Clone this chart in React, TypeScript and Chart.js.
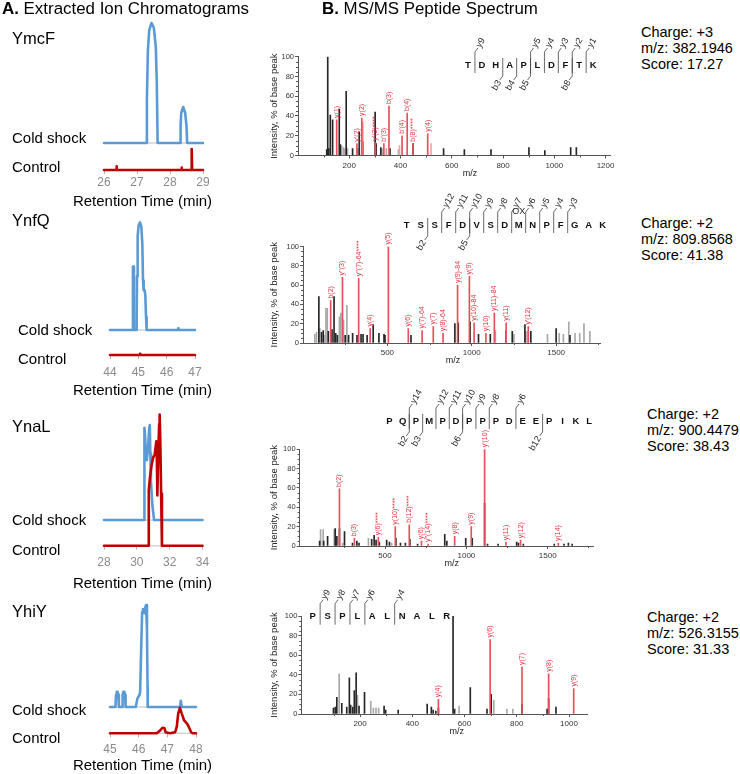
import React, { useEffect, useRef } from "react";
import { Chart, registerables } from "chart.js";

Chart.register(...registerables);

const FONT = '"Liberation Sans", Arial, Helvetica, sans-serif';
const BLUE = "#5b9bd5";
const DARKRED = "#c00000";
const BASEGRAY = "#d4d4d4";
const PEAK_BLACK = "#262626";
const PEAK_GRAY = "#a8a8a8";
const PEAK_RED = "#e5505b";
const PEAK_PINK = "#f2a5ab";
const LABEL_RED = "#e0323f";
const AXIS = "#555";

type XY = [number, number];

// ================= A. Extracted ion chromatograms =================
const ymcfTicks = [26, 27, 28, 29];
const ymcfCold: XY[] = [
  [26, 0], [27.29, 0], [27.3, 36], [27.33, 77], [27.37, 94], [27.44, 100], [27.51, 96], [27.57, 80], [27.6, 50], [27.625, 0],
  [28.31, 0], [28.32, 14], [28.34, 25], [28.4, 30], [28.46, 25], [28.5, 14], [28.52, 0], [29, 0],
];
const ymcfControl: XY[] = [
  [26, 0], [26.37, 0], [26.38, 3], [26.39, 0], [28.34, 0], [28.35, 2], [28.36, 0],
  [28.645, 0], [28.65, 17.5], [28.665, 17.5], [28.67, 0], [29, 0],
];

const ynfqTicks = [44, 45, 46, 47];
const ynfqCold: XY[] = [
  [44, 0], [44.8, 0], [44.81, 59], [44.835, 59], [44.845, 0], [44.94, 0], [44.953, 50], [44.976, 87], [45.012, 97.5],
  [45.059, 100], [45.106, 96], [45.141, 80], [45.165, 46], [45.188, 37], [45.224, 37], [45.247, 32], [45.271, 12],
  [45.294, 0], [46.4, 0], [46.41, 1.5], [46.42, 0], [47, 0],
];
const ynfqControl: XY[] = [[44, 0], [45.05, 0], [45.06, 1], [45.07, 0], [47, 0]];

const ynalTicks = [28, 30, 32, 34];
const ynalCold: XY[] = [
  [28, 0], [30.44, 0], [30.45, 60], [30.475, 97], [30.5, 90], [30.56, 66], [30.606, 63], [30.68, 75], [30.76, 98],
  [30.79, 100], [30.82, 70], [30.86, 40], [30.95, 15], [31.05, 0], [34, 0],
];
const ynalControl: XY[] = [
  [28, 0], [30.72, 0], [30.725, 40], [30.73, 58], [30.8, 72], [30.9, 85], [31.0, 93], [31.09, 96], [31.19, 110],
  [31.22, 90], [31.25, 53], [31.3, 95], [31.36, 128], [31.39, 138], [31.43, 110], [31.48, 55], [31.53, 0], [34, 0],
];

const yhiyTicks = [45, 46, 47, 48];
const yhiyCold: XY[] = [
  [45, 0], [45.19, 0], [45.21, 12], [45.235, 15], [45.265, 15], [45.29, 12], [45.31, 0], [45.42, 0], [45.44, 12],
  [45.465, 15], [45.5, 15], [45.525, 12], [45.545, 0], [45.9, 0], [45.96, 8.5], [46.03, 12], [46.05, 14], [46.09, 59],
  [46.12, 93], [46.15, 96], [46.17, 95], [46.2, 92], [46.235, 98], [46.256, 100], [46.29, 75], [46.31, 20], [46.315, 0],
  [47.44, 0], [47.47, 6], [47.51, 0], [48, 0],
];
const yhiyControl: XY[] = [
  [45, 0], [46.63, 0], [46.74, 2.6], [46.84, 5.5], [46.9, 5], [46.94, 1], [47.09, 0], [47.27, 1], [47.33, 6.5],
  [47.38, 19.6], [47.44, 25], [47.5, 19.6], [47.58, 13], [47.7, 9], [47.77, 5], [47.83, 1], [47.88, 0], [48, 0],
];

const geneNames = ["YmcF", "YnfQ", "YnaL", "YhiY"];

// ================= B. MS/MS spectra =================
const yTicksPct = [0, 20, 40, 60, 80, 100];

// Spectrum 1 (YmcF)
const spec1XTicks = [200, 400, 600, 800, 1000, 1200];
const spec1Black: XY[] = [
  [112, 6], [116, 100], [120, 7], [126, 41], [135, 36], [161, 47], [165, 11], [188, 65], [213, 7], [239, 24], [254, 14],
  [301, 44], [305, 12], [323, 8], [359, 7], [449, 12], [568, 7], [649, 6], [753, 6], [901, 8], [963, 5], [1064, 8], [1086, 8],
];
const spec1Gray: XY[] = [[170, 10], [177, 8], [183, 7], [193, 7], [232, 7], [236, 7], [328, 7], [345, 7], [392, 6]];
const spec1Pink: XY[] = [[253, 34], [396, 10], [519, 12]];
const spec1Red: XY[] = [[151, 36], [230, 12], [249, 38], [302, 13], [335, 12], [355, 50], [406, 20], [426, 43], [449, 12], [506, 22]];
const spec1RedLabels = ["y(1)", "y'(2)", "y(2)", "y'(3)****", "b'(3)", "b(3)", "b'(4)", "b(4)", "b(8)****", "y(4)"];
const spec1Peptide = "TDHAPLDFTK";
const spec1YIons: [number, string][] = [[0, "y9"], [4, "y5"], [5, "y4"], [6, "y3"], [7, "y2"], [8, "y1"]];
const spec1BIons: [number, string][] = [[2, "b3"], [3, "b4"], [4, "b5"], [7, "b8"]];

// Spectrum 2 (YnfQ)
const spec2XTicks = [500, 1000, 1500];
const spec2Black: XY[] = [
  [94, 48], [110, 11], [120, 13], [150, 12], [172, 14], [184, 48], [194, 10], [204, 8], [250, 8], [270, 8], [294, 10],
  [320, 8], [344, 9], [356, 9], [380, 8], [416, 19], [450, 10], [480, 9], [486, 8], [640, 8], [900, 20], [920, 21],
  [990, 22], [1040, 9], [1110, 9], [1204, 13], [1240, 12], [1315, 19], [1350, 12], [1500, 15], [1582, 8],
];
const spec2Gray: XY[] = [
  [70, 9], [80, 11], [100, 15], [130, 8], [136, 36], [144, 36], [216, 27], [224, 31], [240, 24], [260, 39], [1140, 13],
  [1250, 9], [1321, 12], [1449, 9], [1518, 10], [1543, 9], [1575, 22], [1612, 10], [1640, 10], [1665, 20], [1700, 12],
];
const spec2Pink: XY[] = [[1330, 12]];
const spec2Red: XY[] = [
  [164, 44], [234, 68], [330, 67], [398, 15], [506, 100], [624, 15], [706, 13], [772, 17], [830, 10], [916, 60],
  [986, 69], [1014, 21], [1084, 10], [1134, 31], [1204, 21], [1335, 17],
];
const spec2RedLabels = [
  "b(2)", "y''(3)", "y''(7)-64****", "y(4)", "y(5)", "y(6)", "y(7)-64", "y(7)", "y(8)-64", "y(9)-84",
  "y(9)", "y(10)-84", "y(10)", "y(11)-84", "y(11)", "y'(12)",
];
const spec2Peptide = "TSSFDVSDMNPFGAK";
const spec2YIons: [number, string][] = [
  [2, "y12"], [3, "y11"], [4, "y10"], [5, "y9"], [6, "y8"], [7, "y7"], [8, "y6"], [9, "y5"], [10, "y4"], [11, "y3"],
];
const spec2BIons: [number, string][] = [[1, "b2"], [4, "b5"]];

// Spectrum 3 (YnaL)
const spec3XTicks = [500, 1000, 1500];
const spec3Black: XY[] = [
  [98, 5], [123, 5], [147, 10], [194, 18], [204, 10], [220, 18], [251, 15], [300, 3], [327, 5], [340, 3], [418, 7],
  [433, 11], [445, 6], [465, 4], [510, 6], [527, 4], [567, 8], [595, 3], [625, 3], [653, 7], [700, 2], [867, 12],
  [880, 5], [996, 8], [1036, 8], [1112, 44], [1130, 2], [1195, 2], [1309, 4], [1320, 3], [1350, 2], [1540, 2],
  [1600, 2], [1627, 3], [1650, 2],
];
const spec3Gray: XY[] = [[104, 17], [120, 17], [188, 17], [240, 3], [398, 8], [540, 3]];
const spec3Pink: XY[] = [[225, 6]];
const spec3Red: XY[] = [
  [220, 59], [312, 8], [459, 9], [563, 20], [649, 22], [724, 5], [765, 2], [928, 10], [1030, 20], [1112, 100],
  [1243, 4], [1333, 6], [1565, 3],
];
const spec3RedLabels = [
  "b(2)", "b(3)", "y(6)****", "y(10)****", "b(12)****", "y(6)", "y''(14)****", "y(8)", "y(9)", "y'(10)",
  "y(11)", "y(12)", "y(14)",
];
const spec3Peptide = "PQPMPDPPPDEEPIKL";
const spec3YIons: [number, string][] = [[1, "y14"], [3, "y12"], [4, "y11"], [5, "y10"], [6, "y9"], [7, "y8"], [9, "y6"]];
const spec3BIons: [number, string][] = [[1, "b2"], [2, "b3"], [5, "b6"], [11, "b12"]];

// Spectrum 4 (YhiY)
const spec4XTicks = [200, 400, 600, 800, 1000];
const spec4Black: XY[] = [
  [98, 6], [105, 7], [111, 17], [130, 11], [149, 7], [159, 37], [164, 9], [172, 7], [178, 24], [185, 42], [196, 8],
  [217, 22], [292, 8], [298, 4], [346, 4], [457, 10], [473, 7], [480, 4], [490, 3], [500, 6], [556, 100], [562, 5],
  [622, 27], [686, 5], [702, 20], [820, 10], [916, 5], [922, 16], [950, 7],
];
const spec4Gray: XY[] = [[120, 41], [190, 19], [241, 13], [251, 6], [261, 6], [271, 6], [579, 8], [712, 14], [762, 5], [785, 5]];
const spec4Pink: XY[] = [];
const spec4Red: XY[] = [[500, 15], [698, 76], [820, 48], [922, 41], [1018, 26]];
const spec4RedLabels = ["y(4)", "y(6)", "y(7)", "y(8)", "y(9)"];
const spec4Peptide = "PSPLALNALR";
const spec4YIons: [number, string][] = [[0, "y9"], [1, "y8"], [2, "y7"], [3, "y6"], [5, "y4"]];
const spec4BIons: [number, string][] = [];

const chargeLines = [
  ["Charge: +3", "m/z: 382.1946", "Score: 17.27"],
  ["Charge: +2", "m/z: 809.8568", "Score: 41.38"],
  ["Charge: +2", "m/z: 900.4479", "Score: 38.43"],
  ["Charge: +2", "m/z: 526.3155", "Score: 31.33"],
];

// ================= layout =================
interface ChromCfg {
  ticks: number[];
  cold: XY[];
  control: XY[];
  canvasTop: number;
  chartTop: number;
  chartLeft: number;
  chartRight: number;
  coldBase: number;
  ctrlBase: number;
  k: number;
  tickPad: number;
}

const CHROMS: ChromCfg[] = [
  { ticks: ymcfTicks, cold: ymcfCold, control: ymcfControl, canvasTop: 10, chartTop: 15, chartLeft: 104, chartRight: 203, coldBase: 143, ctrlBase: 170, k: 1.2, tickPad: 1.5 },
  { ticks: ynfqTicks, cold: ynfqCold, control: ynfqControl, canvasTop: 205, chartTop: 210, chartLeft: 110, chartRight: 195, coldBase: 330, ctrlBase: 355, k: 1.077, tickPad: 6.5 },
  { ticks: ynalTicks, cold: ynalCold, control: ynalControl, canvasTop: 400, chartTop: 405, chartLeft: 104, chartRight: 202.5, coldBase: 520, ctrlBase: 545.7, k: 0.95, tickPad: 5.8 },
  { ticks: yhiyTicks, cold: yhiyCold, control: yhiyControl, canvasTop: 590, chartTop: 595, chartLeft: 110, chartRight: 196, coldBase: 707, ctrlBase: 733.3, k: 1.02, tickPad: 5.5 },
];

interface SpecCfg {
  xTicks: number[];
  black: XY[];
  gray: XY[];
  pink: XY[];
  red: XY[];
  redLabels: string[];
  peptide: string;
  yIons: [number, string][];
  bIons: [number, string][];
  xmin: number;
  xmax: number;
  canvasTop: number;
  height: number;
  chartTop: number;
  chartBottom: number;
  chartLeft: number;
  chartRight: number;
  mzX: number;
  pepX0: number;
  pepDx: number;
  pepY: number;
  ox?: number;
}

const SPECS: SpecCfg[] = [
  { xTicks: spec1XTicks, black: spec1Black, gray: spec1Gray, pink: spec1Pink, red: spec1Red, redLabels: spec1RedLabels, peptide: spec1Peptide, yIons: spec1YIons, bIons: spec1BIons,
    xmin: 0, xmax: 1220, canvasTop: 20, height: 165, chartTop: 56.7, chartBottom: 155.5, chartLeft: 298, chartRight: 610.7, mzX: 470, pepX0: 468, pepDx: 13.9, pepY: 65 },
  { xTicks: spec2XTicks, black: spec2Black, gray: spec2Gray, pink: spec2Pink, red: spec2Red, redLabels: spec2RedLabels, peptide: spec2Peptide, yIons: spec2YIons, bIons: spec2BIons,
    xmin: 0, xmax: 1760, canvasTop: 190, height: 180, chartTop: 246.5, chartBottom: 343, chartLeft: 303, chartRight: 600, mzX: 453, pepX0: 406.7, pepDx: 14.0, pepY: 225, ox: 8 },
  { xTicks: spec3XTicks, black: spec3Black, gray: spec3Gray, pink: spec3Pink, red: spec3Red, redLabels: spec3RedLabels, peptide: spec3Peptide, yIons: spec3YIons, bIons: spec3BIons,
    xmin: -25, xmax: 1780, canvasTop: 380, height: 190, chartTop: 449.3, chartBottom: 546, chartLeft: 299.6, chartRight: 593.3, mzX: 451.7, pepX0: 389.3, pepDx: 13.33, pepY: 421 },
  { xTicks: spec4XTicks, black: spec4Black, gray: spec4Gray, pink: spec4Pink, red: spec4Red, redLabels: spec4RedLabels, peptide: spec4Peptide, yIons: spec4YIons, bIons: spec4BIons,
    xmin: -25, xmax: 1070, canvasTop: 575, height: 170, chartTop: 616, chartBottom: 714, chartLeft: 301.3, chartRight: 587.3, mzX: 456.7, pepX0: 312.7, pepDx: 14.9, pepY: 616.7 },
];

const toPts = (a: XY[]) => a.map(([x, y]) => ({ x, y }));

function Chromatogram({ cfg }: { cfg: ChromCfg }) {
  const ref = useRef<HTMLCanvasElement>(null);
  const W = 250;
  const axisH = 30;
  const H = Math.ceil(cfg.ctrlBase - cfg.canvasTop + axisH);
  useEffect(() => {
    const xmin = cfg.ticks[0];
    const xmax = cfg.ticks[cfg.ticks.length - 1];
    const line = (data: XY[], axis: string, color: string, width: number) => ({
      data: toPts(data), yAxisID: axis, borderColor: color, borderWidth: width, pointRadius: 0,
      tension: 0, clip: false as any, borderJoinStyle: "round" as const, borderCapStyle: "round" as const,
    });
    const chart = new Chart(ref.current!, {
      type: "line",
      data: {
        datasets: [
          line(cfg.control, "yCtrl", DARKRED, 2.6),
          line(cfg.cold, "yCold", BLUE, 2.6),
          line([[xmin, 0], [xmax, 0]], "yCtrl", BASEGRAY, 1.5),
          line([[xmin, 0], [xmax, 0]], "yCold", BASEGRAY, 1.5),
        ],
      },
      options: {
        animation: false,
        responsive: false,
        events: [],
        layout: {
          padding: {
            left: cfg.chartLeft,
            right: W - cfg.chartRight,
            top: cfg.chartTop - cfg.canvasTop,
            bottom: H - (cfg.ctrlBase - cfg.canvasTop) - axisH,
          },
        },
        plugins: { legend: { display: false }, tooltip: { enabled: false } },
        scales: {
          x: {
            type: "linear",
            min: xmin,
            max: xmax,
            afterBuildTicks: (s: any) => { s.ticks = cfg.ticks.map((v) => ({ value: v })); },
            afterFit: (s: any) => { s.height = axisH; },
            ticks: { font: { family: FONT, size: 12 }, color: "#8a8a8a", padding: cfg.tickPad, maxRotation: 0, autoSkip: false, callback: (v: any) => String(v) },
            grid: { drawOnChartArea: false, drawTicks: true, tickLength: 4, color: "#b0b0b0" },
            border: { display: false },
          },
          yCold: {
            type: "linear", display: false,
            min: -(cfg.ctrlBase - cfg.coldBase) / cfg.k,
            max: (cfg.coldBase - cfg.chartTop) / cfg.k,
          },
          yCtrl: {
            type: "linear", display: false,
            min: 0,
            max: (cfg.ctrlBase - cfg.chartTop) / cfg.k,
          },
        },
      } as any,
    });
    return () => chart.destroy();
  }, []);
  return (
    <canvas ref={ref} width={W} height={H}
      style={{ position: "absolute", left: 0, top: cfg.canvasTop, width: W, height: H }} />
  );
}

function drawPeptide(ctx: CanvasRenderingContext2D, cfg: SpecCfg, offX: number, offY: number) {
  const cy = cfg.pepY - offY;
  const px = (i: number) => cfg.pepX0 + i * cfg.pepDx - offX;
  ctx.save();
  ctx.fillStyle = "#111";
  ctx.font = `bold 9.5px ${FONT}`;
  ctx.textAlign = "center";
  ctx.textBaseline = "middle";
  cfg.peptide.split("").forEach((ch, i) => ctx.fillText(ch, px(i), cy));
  ctx.strokeStyle = "#444";
  ctx.lineWidth = 0.8;
  const rotLabel = (txt: string, x: number, y: number, align: CanvasTextAlign) => {
    ctx.save();
    ctx.translate(x, y);
    ctx.rotate(-Math.PI / 3);
    ctx.font = `9px ${FONT}`;
    ctx.fillStyle = "#222";
    ctx.textAlign = align;
    ctx.textBaseline = "middle";
    ctx.fillText(txt, 0, 0);
    ctx.restore();
  };
  cfg.yIons.forEach(([pos, txt]) => {
    const sx = px(pos + 0.5);
    ctx.beginPath();
    ctx.moveTo(sx, cy + 8);
    ctx.lineTo(sx, cy - 13);
    ctx.lineTo(sx + 3, cy - 17);
    ctx.stroke();
    rotLabel(txt, sx + 3.5, cy - 18, "left");
  });
  cfg.bIons.forEach(([pos, txt]) => {
    const sx = px(pos + 0.5);
    ctx.beginPath();
    ctx.moveTo(sx, cy - 7);
    ctx.lineTo(sx, cy + 11);
    ctx.lineTo(sx - 3, cy + 15);
    ctx.stroke();
    rotLabel(txt, sx - 3.5, cy + 16, "right");
  });
  if (cfg.ox !== undefined) {
    ctx.font = `9px ${FONT}`;
    ctx.fillStyle = "#222";
    ctx.textAlign = "center";
    ctx.fillText("OX", px(cfg.ox), cy - 13);
  }
  ctx.restore();
}

function Spectrum({ cfg }: { cfg: SpecCfg }) {
  const ref = useRef<HTMLCanvasElement>(null);
  const L = 262;
  const W = 355;
  useEffect(() => {
    const axisH = 23.4;
    const bar = (data: XY[], color: string) => ({
      data: toPts(data), backgroundColor: color, borderWidth: 0, barThickness: 1, grouped: false,
    });
    const annot = {
      id: "specAnnot",
      afterDatasetsDraw(chart: any) {
        const ctx: CanvasRenderingContext2D = chart.ctx;
        const xs = chart.scales.x;
        const ys = chart.scales.y;
        const area = chart.chartArea;
        ctx.save();
        // minor ticks
        ctx.strokeStyle = AXIS;
        ctx.lineWidth = 1;
        ctx.beginPath();
        for (let v = 5; v < 100; v += 5) {
          if (v % 20 === 0) continue;
          const py = Math.round(ys.getPixelForValue(v)) + 0.5;
          ctx.moveTo(area.left - 2, py);
          ctx.lineTo(area.left, py);
        }
        const step = cfg.xTicks[1] - cfg.xTicks[0];
        for (let v = step / 2; v < cfg.xmax; v += step) {
          const p = Math.round(xs.getPixelForValue(v)) + 0.5;
          ctx.moveTo(p, area.bottom);
          ctx.lineTo(p, area.bottom + 2);
        }
        ctx.stroke();
        // red peak labels
        ctx.fillStyle = LABEL_RED;
        ctx.font = `7px ${FONT}`;
        ctx.textAlign = "left";
        ctx.textBaseline = "middle";
        cfg.red.forEach(([mz, v], i) => {
          const x = xs.getPixelForValue(mz);
          const y = ys.getPixelForValue(v);
          ctx.save();
          ctx.translate(x, y - 2);
          ctx.rotate(-Math.PI / 2);
          ctx.fillText(cfg.redLabels[i], 0, 0);
          ctx.restore();
        });
        // m/z axis title
        ctx.fillStyle = "#222";
        ctx.font = `9px ${FONT}`;
        ctx.textAlign = "center";
        ctx.textBaseline = "middle";
        ctx.fillText("m/z", cfg.mzX - L, area.bottom + 18);
        ctx.restore();
        drawPeptide(ctx, cfg, L, cfg.canvasTop);
      },
    };
    const chart = new Chart(ref.current!, {
      type: "bar",
      data: {
        datasets: [
          bar(cfg.red, PEAK_RED),
          bar(cfg.pink, PEAK_PINK),
          bar(cfg.black, PEAK_BLACK),
          bar(cfg.gray, PEAK_GRAY),
        ],
      },
      options: {
        animation: false,
        responsive: false,
        events: [],
        layout: {
          padding: {
            left: 0,
            right: L + W - cfg.chartRight,
            top: cfg.chartTop - cfg.canvasTop,
            bottom: cfg.height - (cfg.chartBottom - cfg.canvasTop) - axisH,
          },
        },
        plugins: { legend: { display: false }, tooltip: { enabled: false } },
        scales: {
          x: {
            type: "linear",
            min: cfg.xmin,
            max: cfg.xmax,
            offset: false,
            afterBuildTicks: (s: any) => { s.ticks = cfg.xTicks.map((v) => ({ value: v })); },
            afterFit: (s: any) => { s.height = axisH; },
            ticks: { font: { family: FONT, size: 8 }, color: "#333", padding: 2, maxRotation: 0, autoSkip: false, callback: (v: any) => String(v) },
            grid: { drawOnChartArea: false, drawTicks: true, tickLength: 3, color: AXIS, offset: false },
            border: { display: true, color: AXIS, width: 1 },
          },
          y: {
            type: "linear",
            min: 0,
            max: 100,
            afterBuildTicks: (s: any) => { s.ticks = yTicksPct.map((v) => ({ value: v })); },
            afterFit: (s: any) => { s.width = cfg.chartLeft - L; },
            ticks: { font: { family: FONT, size: 7.5 }, color: "#333", padding: 1, autoSkip: false, callback: (v: any) => String(v) },
            grid: { drawOnChartArea: false, drawTicks: true, tickLength: 3, color: AXIS },
            border: { display: true, color: AXIS, width: 1 },
            title: {
              display: true,
              text: "Intensity, % of base peak",
              font: { family: FONT, size: 9.5 },
              color: "#222",
              padding: { top: 7, bottom: 0 },
            },
          },
        },
      } as any,
      plugins: [annot],
    });
    return () => chart.destroy();
  }, []);
  return (
    <canvas ref={ref} width={W} height={cfg.height}
      style={{ position: "absolute", left: L, top: cfg.canvasTop, width: W, height: cfg.height }} />
  );
}

function Txt({ x, y, size, center, children }: { x: number; y: number; size: number; center?: boolean; children: React.ReactNode }) {
  const style: React.CSSProperties = {
    position: "absolute",
    top: y - size / 2,
    fontSize: size,
    lineHeight: `${size}px`,
    whiteSpace: "nowrap",
    fontFamily: FONT,
    color: "#000",
  };
  if (center) {
    style.left = x - 150;
    style.width = 300;
    style.textAlign = "center";
  } else {
    style.left = x;
  }
  return <div style={style}>{children}</div>;
}

const geneLabelPos: [number, number][] = [[12, 38], [12, 220], [12, 426], [12, 611]];
const coldLabelPos: [number, number][] = [[12, 137.5], [18, 329], [12, 519.5], [12, 709]];
const ctrlLabelPos: [number, number][] = [[12, 166], [18, 358], [12, 549], [12, 737]];
const rtLabelY = [200, 389.5, 582, 764.5];
const chargePos: [number, number][] = [[641, 32], [641, 223], [647, 414], [647, 617]];

export default function App() {
  return (
    <div style={{ position: "absolute", left: 0, top: 0, width: 740, height: 774, background: "#fff", overflow: "hidden" }}>
      {CHROMS.map((c, i) => <Chromatogram key={"c" + i} cfg={c} />)}
      {SPECS.map((s, i) => <Spectrum key={"s" + i} cfg={s} />)}
      <Txt x={2} y={9} size={16.9}><b>A.</b> Extracted Ion Chromatograms</Txt>
      <Txt x={322} y={9} size={16.9}><b>B.</b> MS/MS Peptide Spectrum</Txt>
      {geneNames.map((g, i) => (
        <React.Fragment key={g}>
          <Txt x={geneLabelPos[i][0]} y={geneLabelPos[i][1]} size={16.5}>{g}</Txt>
          <Txt x={coldLabelPos[i][0]} y={coldLabelPos[i][1]} size={15}>Cold shock</Txt>
          <Txt x={ctrlLabelPos[i][0]} y={ctrlLabelPos[i][1]} size={15}>Control</Txt>
          <Txt x={142.5} y={rtLabelY[i]} size={15} center>Retention Time (min)</Txt>
        </React.Fragment>
      ))}
      {chargeLines.map((lines, i) =>
        lines.map((t, j) => (
          <Txt key={"q" + i + j} x={chargePos[i][0]} y={chargePos[i][1] + j * 16.3} size={14.5}>{t}</Txt>
        ))
      )}
    </div>
  );
}
